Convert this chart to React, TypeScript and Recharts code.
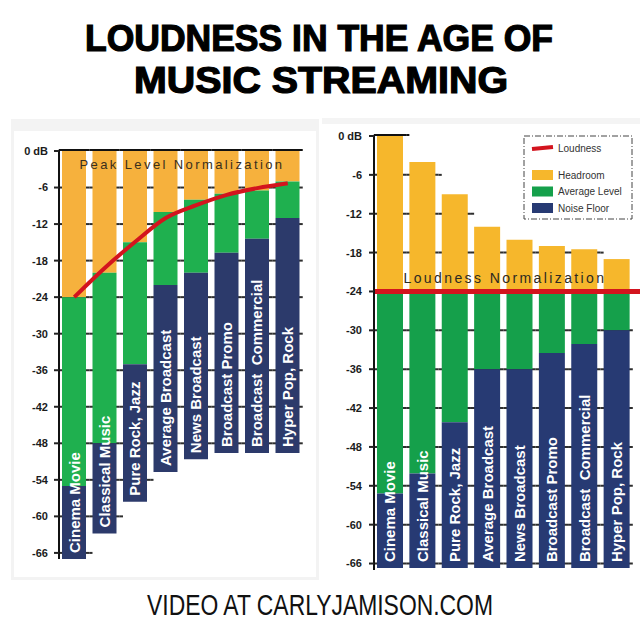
import * as React from 'react';
import {
  ComposedChart, Bar, Line, XAxis, YAxis, ReferenceLine, LabelList,
} from 'recharts';

// ---------------------------------------------------------------------------
// data (dB levels)
// ---------------------------------------------------------------------------
const categories = [
  'Cinema Movie',
  'Classical Music',
  'Pure Rock, Jazz',
  'Average Broadcast',
  'News Broadcast',
  'Broadcast Promo',
  'Broadcast  Commercial',
  'Hyper Pop, Rock',
];
const yTicks = [0, -6, -12, -18, -24, -30, -36, -42, -48, -54, -60, -66];
const yTickLabels = ['0 dB', '-6', '-12', '-18', '-24', '-30', '-36', '-42', '-48', '-54', '-60', '-66'];
const Y_MIN = -67;
const Y_MAX = 0;

// left: peak level normalization
const peakTop = [0, 0, 0, 0, 0, 0, 0, 0];
const peakLevel = [-24, -20, -15, -10, -8, -7, -6.5, -5];
const peakNoise = [-55, -48, -35, -22, -20, -16.7, -14.4, -11];
const peakBottom = [-67, -62.8, -57.6, -52.7, -50.6, -49.6, -49.6, -49.6];
const peakCurve = [-24, -19.2, -14.9, -11, -8.9, -7.2, -6.1, -5.3];

// right: loudness normalization
const loudTop = [0, -4, -9, -14, -16, -17, -17.5, -19];
const loudLevel = [-24, -24, -24, -24, -24, -24, -24, -24];
const loudNoise = [-55.2, -52.1, -44.2, -36, -36, -33.5, -32.1, -30];
const loudBottom = [-66.7, -66.7, -66.7, -66.7, -66.7, -66.7, -66.7, -66.7];
const loudTarget = -24;

const legendItems = ['Loudness', 'Headroom', 'Average Level', 'Noise Floor'];

// ---------------------------------------------------------------------------
const FONT = '"Liberation Sans", Arial, sans-serif';
const RED = '#D3141E';
const GRID = '#2e2e2e';
const LEFT = { head: '#F6B13D', avg: '#1FB04F', floor: '#2C3A6B' };
const RIGHT = { head: '#F6B72C', avg: '#15A04B', floor: '#273A73' };

function buildRows(top: number[], level: number[], noise: number[], bottom: number[], curve?: number[]) {
  return categories.map((name, i) => ({
    name,
    gap: top[i],
    head: level[i] - top[i],
    avg: noise[i] - level[i],
    floor: bottom[i] - noise[i],
    curve: curve ? curve[i] : undefined,
  }));
}

// Bar background: gridlines run from the axis up to the first bar that does
// not span the level, so they only peek out of the gaps between bars.
function makeGridBg(top: number[], bottom: number[], gapPx: number, plotTop: number, plotH: number) {
  const covers = (i: number, t: number) => top[i] >= t && bottom[i] <= t;
  return (p: any) => {
    const { x, width, index } = p;
    return (
      <g key={`bg-${index}`}>
        {yTicks.map((t) => {
          for (let j = 0; j < index; j++) if (!covers(j, t)) return null;
          const ty = plotTop + (plotH * (Y_MAX - t)) / (Y_MAX - Y_MIN);
          const x1 = x - gapPx / 2;
          const x2 = covers(index, t) ? x + width + gapPx / 2 : x;
          const zero = t === 0;
          return (
            <line
              key={t}
              x1={x1}
              x2={x2}
              y1={zero ? ty - 1 : ty}
              y2={zero ? ty - 1 : ty}
              stroke={zero ? '#111' : GRID}
              strokeWidth={2}
            />
          );
        })}
      </g>
    );
  };
}

const BarName = (props: any) => {
  const vb = props.viewBox ?? props;
  const x = vb.x ?? props.x;
  const y = vb.y ?? props.y;
  const w = vb.width ?? props.width;
  const h = vb.height ?? props.height;
  const cx = x + w / 2;
  const by = Math.max(y, y + h) - 6;
  return (
    <text
      x={cx}
      y={by}
      transform={`rotate(-90 ${cx} ${by})`}
      textAnchor="start"
      dominantBaseline="central"
      fill="#fff"
      fontSize={15}
      fontWeight="bold"
      fontFamily={FONT}
      style={{ whiteSpace: 'pre' }}
    >
      {props.value}
    </text>
  );
};

const tickFmt = (v: number) => yTickLabels[yTicks.indexOf(v)] ?? String(v);

interface PanelProps {
  rows: ReturnType<typeof buildRows>;
  colors: { head: string; avg: string; floor: string };
  top: number[];
  bottom: number[];
  gapPx: number;
  width: number;
  height: number;
  margin: { top: number; right: number; bottom: number; left: number };
  barSize: number;
  tickMargin: number;
  children?: React.ReactNode;
}

function Panel({ rows, colors, top, bottom, gapPx, width, height, margin, barSize, tickMargin, children }: PanelProps) {
  const plotH = height - margin.top - margin.bottom;
  return (
    <ComposedChart width={width} height={height} data={rows} margin={margin} barSize={barSize}>
      <XAxis dataKey="name" hide />
      <XAxis xAxisId="g" type="number" domain={[0, categories.length]} hide />
      <YAxis
        type="number"
        domain={[Y_MIN, Y_MAX]}
        ticks={yTicks}
        allowDataOverflow
        width={40}
        tickFormatter={tickFmt}
        tickSize={5}
        tickMargin={tickMargin}
        axisLine={{ stroke: '#111', strokeWidth: 2 }}
        tickLine={{ stroke: '#222', strokeWidth: 2 }}
        tick={{ fontSize: 11, fontWeight: 'bold', fill: '#1b1b1b', fontFamily: FONT }}
      />
      <Bar dataKey="gap" stackId="s" fill="transparent" isAnimationActive={false} />
      <Bar
        dataKey="head"
        stackId="s"
        fill={colors.head}
        background={makeGridBg(top, bottom, gapPx, margin.top, plotH)}
        isAnimationActive={false}
      />
      <Bar dataKey="avg" stackId="s" fill={colors.avg} isAnimationActive={false} />
      <Bar dataKey="floor" stackId="s" fill={colors.floor} isAnimationActive={false}>
        <LabelList dataKey="name" content={BarName} />
      </Bar>
      {children}
    </ComposedChart>
  );
}

const peakRows = buildRows(peakTop, peakLevel, peakNoise, peakBottom, peakCurve);
const loudRows = buildRows(loudTop, loudLevel, loudNoise, loudBottom);

const legendColors = [RED, RIGHT.head, RIGHT.avg, RIGHT.floor];

export default function App() {
  return (
    <div style={{ position: 'absolute', left: 0, top: 0, width: 640, height: 638, background: '#fff', overflow: 'hidden', fontFamily: FONT }}>
      {/* title */}
      <svg style={{ position: 'absolute', left: 0, top: 0 }} width={640} height={110}>
        <text x={85} y={51} textLength={468} lengthAdjust="spacingAndGlyphs" fontSize={36} fontWeight="bold" fontFamily={FONT} fill="#000" stroke="#000" strokeWidth={1.2}>
          LOUDNESS IN THE AGE OF
        </text>
        <text x={134} y={93} textLength={374} lengthAdjust="spacingAndGlyphs" fontSize={36} fontWeight="bold" fontFamily={FONT} fill="#000" stroke="#000" strokeWidth={1.2}>
          MUSIC STREAMING
        </text>
      </svg>

      {/* panel frames */}
      <div style={{ position: 'absolute', left: 11, top: 119, width: 302, height: 446, border: '3px solid #f3f3f3', borderTopWidth: 12 }} />
      <div style={{ position: 'absolute', left: 322, top: 118, width: 318, height: 6, background: '#f4f4f4' }} />

      {/* left: peak level normalization */}
      <div style={{ position: 'absolute', left: 0, top: 140 }}>
        <Panel
          rows={peakRows}
          colors={LEFT}
          top={peakTop}
          bottom={peakBottom}
          gapPx={30.5 - 24}
          width={315}
          height={430}
          margin={{ top: 11, right: 12, bottom: 11, left: 19 }}
          barSize={24}
          tickMargin={6}
        >
          <Line
            type="monotone"
            dataKey="curve"
            stroke={RED}
            strokeWidth={4}
            dot={false}
            isAnimationActive={false}
          />
        </Panel>
      </div>
      <div
        style={{
          position: 'absolute', left: 62, top: 156, width: 240, textAlign: 'center',
          fontSize: 13, letterSpacing: 2.4, color: '#3a2f1c', lineHeight: '18px',
        }}
      >
        Peak Level Normalization
      </div>

      {/* right: loudness normalization */}
      <div style={{ position: 'absolute', left: 320, top: 126 }}>
        <Panel
          rows={loudRows}
          colors={RIGHT}
          top={loudTop}
          bottom={loudBottom}
          gapPx={32.375 - 26}
          width={320}
          height={450}
          margin={{ top: 10, right: 7, bottom: 6, left: 14 }}
          barSize={26}
          tickMargin={7}
        >
          <ReferenceLine
            xAxisId="g"
            segment={[{ x: 0, y: loudTarget }, { x: 8.15, y: loudTarget }]}
            ifOverflow="visible"
            stroke={RED}
            strokeWidth={5}
          />
        </Panel>
      </div>
      <div
        style={{
          position: 'absolute', left: 395, top: 268, width: 220, textAlign: 'center',
          fontSize: 14, letterSpacing: 2.4, color: '#2d2a22', lineHeight: '20px',
        }}
      >
        Loudness Normalization
      </div>

      {/* legend */}
      <svg style={{ position: 'absolute', left: 523, top: 135 }} width={112} height={86}>
        <rect x={1} y={1} width={108} height={83} fill="#fff" stroke="#444" strokeWidth={1} strokeDasharray="6 2 1 2" />
        {legendItems.map((name, i) => {
          const cy = i === 0 ? 13 : 40 + (i - 1) * 16.5;
          return (
            <g key={name}>
              {i === 0 ? (
                <line x1={9} y1={cy + 1} x2={30} y2={cy - 1} stroke={legendColors[i]} strokeWidth={4} />
              ) : (
                <rect x={9} y={cy - 5} width={21} height={10} fill={legendColors[i]} />
              )}
              <text x={35} y={cy} dominantBaseline="central" fontSize={10} fill="#333" fontFamily={FONT}>
                {name}
              </text>
            </g>
          );
        })}
      </svg>

      {/* footer */}
      <svg style={{ position: 'absolute', left: 0, top: 585 }} width={640} height={40}>
        <text
          x={147}
          y={30}
          textLength={346}
          lengthAdjust="spacingAndGlyphs"
          fontSize={30}
          fontFamily={FONT}
          fill="#111"
        >
          VIDEO AT CARLYJAMISON.COM
        </text>
      </svg>
    </div>
  );
}
